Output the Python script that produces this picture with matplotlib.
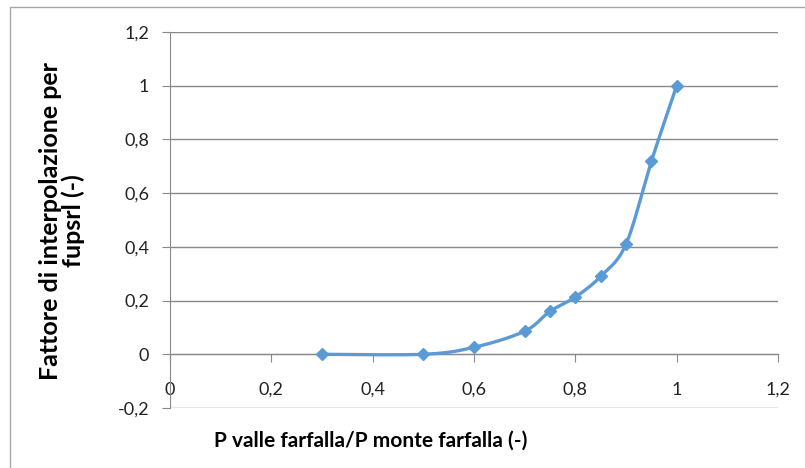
import numpy as np
import matplotlib
matplotlib.use("Agg")
import matplotlib.pyplot as plt
from matplotlib.ticker import FuncFormatter
from matplotlib.patches import Rectangle

# data
rapporto = [0.3, 0.5, 0.6, 0.7, 0.75, 0.8, 0.85, 0.9, 0.95, 1.0]
fattore = [0.0, 0.0, 0.026, 0.086, 0.16, 0.213, 0.29, 0.41, 0.718, 1.0]
x_ticks = [0, 0.2, 0.4, 0.6, 0.8, 1.0, 1.2]
y_ticks = [-0.2, 0, 0.2, 0.4, 0.6, 0.8, 1.0, 1.2]
x_label = "P valle farfalla/P monte farfalla (-)"
y_label = "Fattore di interpolazione per\nfupsrl (-)"

blu = "#5B9BD5"
grigio = "#898989"

plt.rcParams['font.family'] = ['Lato', 'DejaVu Sans']


def smooth(xs, ys, n=40):
    # Excel-like smoothed line: Catmull-Rom as cubic Bezier segments
    p = np.column_stack([xs, ys])
    p = np.vstack([p[0], p, p[-1]])
    out = []
    for i in range(1, len(p) - 2):
        p0, p1, p2, p3 = p[i - 1], p[i], p[i + 1], p[i + 2]
        c1 = p1 + (p2 - p0) / 6.0
        c2 = p2 - (p3 - p1) / 6.0
        t = np.linspace(0, 1, n)[:, None]
        seg = ((1 - t) ** 3) * p1 + 3 * ((1 - t) ** 2) * t * c1 + 3 * (1 - t) * t ** 2 * c2 + t ** 3 * p2
        out.append(seg if i == 1 else seg[1:])
    out = np.vstack(out)
    return out[:, 0], out[:, 1]


fig = plt.figure(figsize=(8.05, 4.68), dpi=100)
ax = fig.add_axes([170 / 805, 1 - 408 / 468, 608 / 805, 376 / 468])

# chart border (top / left, the rest is cropped in the reference)
fig.patches.append(Rectangle((10 / 805, -0.05), 1.2, 1 - 7 / 468 + 0.05,
                             transform=fig.transFigure, fill=False,
                             edgecolor="#A6A6A6", lw=1.0))

sx, sy = smooth(rapporto, fattore)
ax.plot(sx, sy, color=blu, lw=2.4, solid_capstyle='round', zorder=3)
ax.plot(rapporto, fattore, linestyle='none', marker='D', markersize=6.5,
        color=blu, zorder=4)

ax.set_xlim(0, 1.2)
ax.set_ylim(-0.2, 1.2)
ax.set_xticks(x_ticks)
ax.set_yticks(y_ticks)
fmt = FuncFormatter(lambda v, pos: ("%g" % round(v, 2)).replace(".", ","))
ax.xaxis.set_major_formatter(fmt)
ax.yaxis.set_major_formatter(fmt)

for yv in y_ticks:
    ax.axhline(yv, color=grigio, lw=1.0, zorder=1)

ax.spines['top'].set_visible(False)
ax.spines['right'].set_visible(False)
ax.spines['bottom'].set_position(('data', 0))
ax.spines['bottom'].set_color(grigio)
ax.spines['left'].set_color(grigio)

ax.tick_params(axis='x', direction='out', length=6, color=grigio, pad=14,
               labelsize=13, labelcolor='#222222')
ax.tick_params(axis='y', direction='out', length=6, color=grigio, pad=9,
               labelsize=13, labelcolor='#222222')

fig.text(371 / 805, 1 - 441 / 468, x_label, ha='center', va='center',
         fontsize=15, fontweight='bold')
fig.text(62 / 805, 1 - 221 / 468, y_label, ha='center', va='center',
         rotation=90, fontsize=18, fontweight='bold', linespacing=0.95,
         multialignment='center')

fig.savefig("out.png", dpi=100)
